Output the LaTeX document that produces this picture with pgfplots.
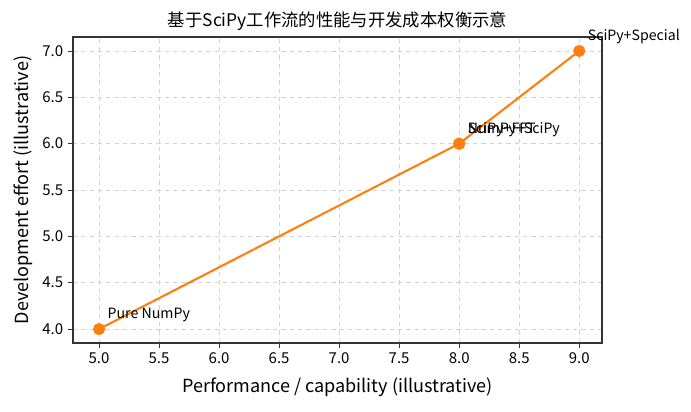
\documentclass[border=0pt]{standalone}
\usepackage{pgfplots}
\pgfplotsset{compat=1.18}
\usepackage{fontspec}
\setmainfont{Noto Sans CJK SC}
\definecolor{morange}{HTML}{FF7F0E}
\definecolor{frame}{HTML}{333333}
\begin{document}
\begin{tikzpicture}
\begin{axis}[
  scale only axis,
  width=380.9pt, height=220.3pt,
  xmin=4.783, xmax=9.19,
  ymin=3.85, ymax=7.15,
  xtick={5,5.5,...,9}, ytick={4,4.5,...,7},
  /pgf/number format/assume math mode=true,
  xticklabel style={/pgf/number format/.cd,fixed,fixed zerofill,precision=1},
  yticklabel style={/pgf/number format/.cd,fixed,fixed zerofill,precision=1},
  ticklabel style={font=\fontsize{10.8}{12}\selectfont},
  tick align=outside, tick pos=left,
  major tick length=3.5pt,
  every tick/.style={frame, line width=0.6pt},
  axis line style={frame, line width=0.8pt},
  grid=major,
  major grid style={dashed, gray!35, line width=0.6pt},
  xlabel={Performance / capability (illustrative)},
  ylabel={Development effort (illustrative)},
  label style={font=\fontsize{13}{15}\selectfont},
  xlabel style={yshift=-3pt},
  ylabel style={yshift=0pt},
  title={基于SciPy工作流的性能与开发成本权衡示意},
  title style={font=\fontsize{12.5}{14}\selectfont, yshift=-5pt},
  clip=false,
]
\addplot[color=morange, line width=1.5pt, mark=*, mark size=3.6pt, mark options={fill=morange, draw=morange}]
  coordinates {(5,4) (8,6) (8,6) (9,7)};
\node[anchor=south west, font=\fontsize{10.2}{12}\selectfont, inner sep=0pt] at ([xshift=6pt,yshift=5pt]axis cs:5,4) {Pure NumPy};
\node[anchor=south west, font=\fontsize{10.2}{12}\selectfont, inner sep=0pt] at ([xshift=6pt,yshift=5pt]axis cs:8,6) {NumPy+SciPy};
\node[anchor=south west, font=\fontsize{10.2}{12}\selectfont, inner sep=0pt] at ([xshift=6pt,yshift=5pt]axis cs:8,6) {SciPy+FFT};
\node[anchor=south west, font=\fontsize{10.2}{12}\selectfont, inner sep=0pt] at ([xshift=6pt,yshift=5pt]axis cs:9,7) {SciPy+Special};
\end{axis}
\pgfresetboundingbox
\path (-52.56pt,-49.68pt) rectangle (444.96pt,246.96pt);
\end{tikzpicture}
\end{document}
